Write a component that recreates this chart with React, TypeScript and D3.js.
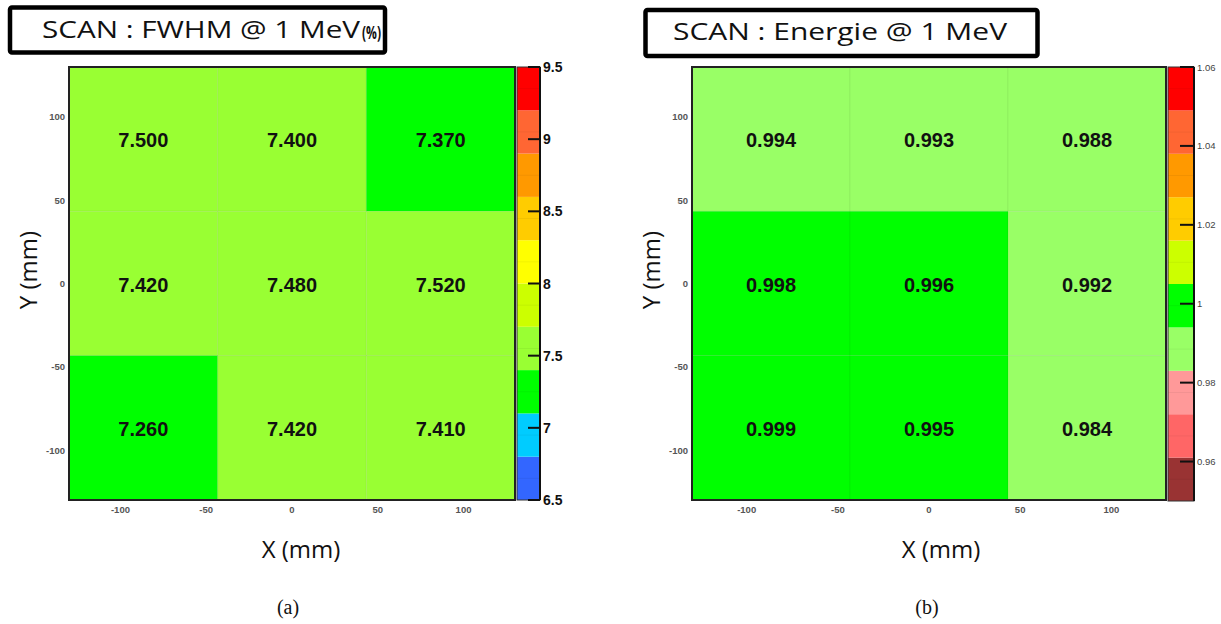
import React from "react";
import * as d3 from "d3";

// ---------- data ----------
const AXIS_RANGE: [number, number] = [-130, 130];
const N_BINS = 3;
const AXIS_TICKS = [-100, -50, 0, 50, 100];

// rows listed from top (y = +) to bottom (y = -), columns left to right
const FWHM_VALUES = [
  [7.5, 7.4, 7.37],
  [7.42, 7.48, 7.52],
  [7.26, 7.42, 7.41],
];
const ENERGY_VALUES = [
  [0.9938, 0.993, 0.988],
  [0.998, 0.996, 0.992],
  [0.999, 0.995, 0.984],
];

const FWHM_EDGES = [6.5, 6.8, 7.1, 7.4, 7.7, 8.0, 8.3, 8.6, 8.9, 9.2, 9.5];
const FWHM_COLORS = ["#3366ff", "#00ccff", "#00ff00", "#99ff33", "#ccff00", "#ffff00", "#ffcc00", "#ff9900", "#ff6633", "#ff0000"];
const FWHM_TICKS = [6.5, 7, 7.5, 8, 8.5, 9, 9.5];

const ENERGY_EDGES = [0.95, 0.961, 0.972, 0.983, 0.994, 1.005, 1.016, 1.027, 1.038, 1.049, 1.06];
const ENERGY_COLORS = ["#993333", "#ff6666", "#ff9999", "#99ff66", "#00ff00", "#ccff00", "#ffcc00", "#ff9900", "#ff6633", "#ff0000"];
const ENERGY_TICKS = [0.96, 0.98, 1, 1.02, 1.04, 1.06];

const TITLES = ["SCAN : FWHM @ 1 MeV", "SCAN : Energie @ 1 MeV"];
const TITLE_UNIT = "(%)";
const CAPTIONS = ["(a)", "(b)"];

// ---------- panel ----------
type PanelProps = {
  values: number[][];
  edges: number[];
  colors: string[];
  ticks: number[];
  plot: { x0: number; x1: number; y0: number; y1: number };
  bar: { x0: number; x1: number; y0: number; y1: number };
  barBold: boolean;
  yTitleX: number;
  xTitleX: number;
};

function Panel(p: PanelProps) {
  const x = d3.scaleLinear().domain(AXIS_RANGE).range([p.plot.x0, p.plot.x1]);
  const y = d3.scaleLinear().domain(AXIS_RANGE).range([p.plot.y1, p.plot.y0]);
  const binEdges = d3.range(N_BINS + 1).map((i) => AXIS_RANGE[0] + ((AXIS_RANGE[1] - AXIS_RANGE[0]) * i) / N_BINS);
  const color = d3.scaleThreshold<number, string>().domain(p.edges.slice(1, -1)).range(p.colors);
  const cb = d3.scaleLinear().domain([p.edges[0], p.edges[p.edges.length - 1]]).range([p.bar.y1, p.bar.y0]);
  const fmt = d3.format(".3f");

  const cells: JSX.Element[] = [];
  p.values.forEach((row, r) => {
    const yTop = binEdges[N_BINS - r];
    const yBot = binEdges[N_BINS - r - 1];
    row.forEach((v, c) => {
      const xl = binEdges[c];
      const xr = binEdges[c + 1];
      cells.push(
        <rect key={`c${r}-${c}`} x={x(xl)} y={y(yTop)} width={x(xr) - x(xl)} height={y(yBot) - y(yTop)}
          fill={color(v)} stroke="rgba(0,0,0,0.05)" strokeWidth={1} />
      );
      cells.push(
        <text key={`t${r}-${c}`} x={(x(xl) + x(xr)) / 2} y={(y(yTop) + y(yBot)) / 2 + 1} textAnchor="middle"
          dominantBaseline="central" fontFamily="Liberation Sans, Arial, sans-serif" fontWeight="bold"
          fontSize={20} fill="#111">{fmt(v)}</text>
      );
    });
  });

  const barW = p.bar.x1 - p.bar.x0;
  return (
    <g>
      {cells}
      <rect x={p.plot.x0} y={p.plot.y0} width={p.plot.x1 - p.plot.x0} height={p.plot.y1 - p.plot.y0}
        fill="none" stroke="#222" strokeWidth={2} />
      {AXIS_TICKS.map((t) => (
        <text key={`xt${t}`} x={x(t)} y={p.plot.y1 + 9} textAnchor="middle" dominantBaseline="central"
          fontFamily="Liberation Sans, Arial, sans-serif" fontWeight="bold" fontSize={9.5} fill="#555">{t}</text>
      ))}
      {AXIS_TICKS.map((t) => (
        <text key={`yt${t}`} x={p.plot.x0 - 4} y={y(t)} textAnchor="end" dominantBaseline="central"
          fontFamily="Liberation Sans, Arial, sans-serif" fontWeight="bold" fontSize={9.5} fill="#555">{t}</text>
      ))}
      <text x={p.xTitleX} y={558} textAnchor="middle" fontFamily="Open Sans, sans-serif" fontSize={24} fill="#111">X (mm)</text>
      <text transform={`translate(${p.yTitleX},270) rotate(-90)`} textAnchor="middle" dominantBaseline="central"
        fontFamily="Open Sans, sans-serif" fontSize={24} fill="#111">Y (mm)</text>
      {/* colour bar */}
      {p.colors.map((c, i) => {
        const yTop = cb(p.edges[i + 1]);
        const yBot = cb(p.edges[i]);
        return (
          <g key={`b${i}`}>
            <rect x={p.bar.x0} y={yTop} width={barW} height={yBot - yTop} fill={c} />
            <line x1={p.bar.x0} x2={p.bar.x1} y1={(yTop + yBot) / 2} y2={(yTop + yBot) / 2} stroke="rgba(0,0,0,0.05)" strokeWidth={1} />
          </g>
        );
      })}
      <rect x={p.bar.x0} y={p.bar.y0} width={barW} height={p.bar.y1 - p.bar.y0} fill="none" stroke="#333" strokeWidth={1} />
      <line x1={p.bar.x1} x2={p.bar.x1} y1={p.bar.y0} y2={p.bar.y1} stroke="#111" strokeWidth={2} />
      {p.ticks.map((t) => (
        <g key={`ct${t}`}>
          <line x1={p.bar.x1 - (p.barBold ? 12 : 14)} x2={p.bar.x1} y1={cb(t)} y2={cb(t)} stroke="#111" strokeWidth={2} />
          <text x={p.bar.x1 + 3} y={cb(t)} dominantBaseline="central"
            fontFamily="Liberation Sans, Arial, sans-serif" fontWeight={p.barBold ? "bold" : "normal"}
            fontSize={p.barBold ? 14 : 9.5} fill={p.barBold ? "#111" : "#444"}>{t}</text>
        </g>
      ))}
    </g>
  );
}

export default function App() {
  return (
    <svg width={1221} height={624} style={{ position: "absolute", left: 0, top: 0, background: "#fff" }}>
      {/* title boxes */}
      <rect x={10} y={7.5} width={375} height={45} fill="#fff" stroke="#000" strokeWidth={4.5} rx={2} />
      <text x={42} y={38} fontFamily="Open Sans, sans-serif" fontSize={24} fill="#111" textLength={318} lengthAdjust="spacingAndGlyphs">{TITLES[0]}</text>
      <text x={362} y={39} fontFamily="Open Sans, sans-serif" fontSize={17} fontWeight="bold" fill="#111" textLength={19} lengthAdjust="spacingAndGlyphs">{TITLE_UNIT}</text>
      <rect x={645.5} y={10} width={392} height={46} fill="#fff" stroke="#000" strokeWidth={4.5} rx={2} />
      <text x={673} y={40} fontFamily="Open Sans, sans-serif" fontSize={24} fill="#111" textLength={334} lengthAdjust="spacingAndGlyphs">{TITLES[1]}</text>

      <Panel values={FWHM_VALUES} edges={FWHM_EDGES} colors={FWHM_COLORS} ticks={FWHM_TICKS}
        plot={{ x0: 69, x1: 515, y0: 67, y1: 500 }} bar={{ x0: 517, x1: 540, y0: 67, y1: 500 }}
        barBold={true} yTitleX={27} xTitleX={301} />
      <Panel values={ENERGY_VALUES} edges={ENERGY_EDGES} colors={ENERGY_COLORS} ticks={ENERGY_TICKS}
        plot={{ x0: 692, x1: 1166, y0: 67, y1: 500 }} bar={{ x0: 1168, x1: 1194, y0: 67, y1: 501 }}
        barBold={false} yTitleX={650} xTitleX={941} />

      <text x={288} y={614} textAnchor="middle" fontFamily="Liberation Serif, serif" fontSize={20} fill="#111">{CAPTIONS[0]}</text>
      <text x={927} y={614} textAnchor="middle" fontFamily="Liberation Serif, serif" fontSize={20} fill="#111">{CAPTIONS[1]}</text>
    </svg>
  );
}
